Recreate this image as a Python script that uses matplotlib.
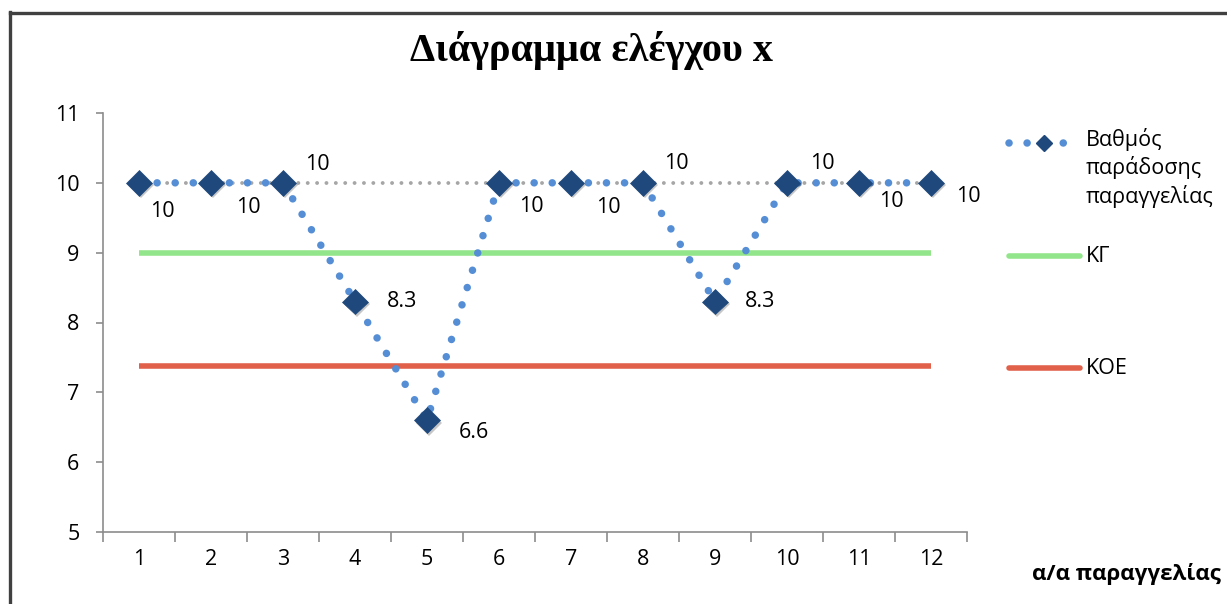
import matplotlib
matplotlib.use("Agg")
import matplotlib.pyplot as plt
import matplotlib.patheffects as pe
from matplotlib.lines import Line2D
from matplotlib.ticker import FixedLocator, NullFormatter

plt.rcParams['font.family'] = ['Open Sans', 'DejaVu Sans']

# ---- data ----
orders = [1, 2, 3, 4, 5, 6, 7, 8, 9, 10, 11, 12]
grades = [10, 10, 10, 8.3, 6.6, 10, 10, 10, 8.3, 10, 10, 10]
center_line = 9.0      # ΚΓ
lower_limit = 7.37     # ΚΟΕ
upper_limit = 10.0     # upper limit line (dotted grey)
y_ticks = [5, 6, 7, 8, 9, 10, 11]

title = "Διάγραμμα ελέγχου x"
x_title = "α/α παραγγελίας"
series_label = "Βαθμός\nπαράδοσης\nπαραγγελίας"
cl_label = "ΚΓ"
lcl_label = "ΚΟΕ"

# label offsets (pixels) for the value annotations
label_offsets = [(23, -29), (37, -25), (34, 18), (47, 0), (47, -12), (32, -24),
                 (37, -25), (33, 19), (45, 0), (35, 19), (32, -19), (37, -14)]

W, H = 1227, 604
fig = plt.figure(figsize=(W / 100, H / 100), dpi=100)
fig.patch.set_facecolor("white")

ax = fig.add_axes([103 / W, 1 - 532 / H, (967 - 103) / W, (532 - 113) / H])
ax.set_xlim(0.5, 12.5)
ax.set_ylim(5, 11)

blue_dot = "#558ED5"
navy = "#1F497D"
green = "#92E58A"
red = "#E0604A"
grey = "#A6A6A6"
txt = "#000000"
fs = 15.5

# horizontal reference lines
ax.plot([orders[0], orders[-1]], [upper_limit] * 2, color=grey, lw=2.8,
        linestyle=(0, (0.01, 2.4)), dash_capstyle="round", zorder=2)
ax.plot([orders[0], orders[-1]], [center_line] * 2, color=green, lw=4, zorder=2,
        solid_capstyle="butt")
ax.plot([orders[0], orders[-1]], [lower_limit] * 2, color=red, lw=4, zorder=2,
        solid_capstyle="butt")

# the measured series: dotted connector + diamond markers
ax.plot(orders, grades, color=blue_dot, lw=5.4, linestyle=(0, (0.01, 2.4)),
        dash_capstyle="round", zorder=3)
ax.plot(orders, grades, linestyle="none", marker="D", ms=13, color=navy,
        markeredgecolor=navy, markeredgewidth=0.5, zorder=4,
        path_effects=[pe.SimplePatchShadow(offset=(1.5, -1.8), shadow_rgbFace="k", alpha=0.22),
                      pe.Normal()])

for x, y, (dx, dy) in zip(orders, grades, label_offsets):
    ax.annotate(f"{y:g}", (x, y), xytext=(dx * 0.72, dy * 0.72), textcoords="offset points",
                ha="center", va="center", fontsize=fs, color=txt, zorder=5)

# axes styling
for s in ["top", "right"]:
    ax.spines[s].set_visible(False)
for s in ["left", "bottom"]:
    ax.spines[s].set_color("#8C8C8C")
    ax.spines[s].set_linewidth(1.2)

ax.set_yticks(y_ticks)
ax.tick_params(axis="y", length=5, width=1.2, color="#8C8C8C", labelsize=fs, pad=12,
               labelcolor=txt)
ax.xaxis.set_major_locator(FixedLocator([i + 0.5 for i in range(0, 13)]))
ax.xaxis.set_major_formatter(NullFormatter())
ax.xaxis.set_minor_locator(FixedLocator(orders))
ax.set_xticklabels([str(o) for o in orders], minor=True)
ax.tick_params(axis="x", which="major", length=7, width=1.2, color="#8C8C8C")
ax.tick_params(axis="x", which="minor", length=0, labelsize=fs, pad=12, labelcolor=txt)

# titles
fig.text(592 / W, 1 - 50 / H, title, ha="center", va="center", fontsize=29,
         fontweight="bold", family=["Liberation Serif", "DejaVu Serif"], color=txt)
fig.text(1126 / W, 1 - 574 / H, x_title, ha="center", va="center", fontsize=16,
         fontweight="bold", color=txt)

# legend, drawn in figure coordinates
def fx(px):
    return px / W

def fy(py):
    return 1 - py / H

fig.add_artist(Line2D([fx(1009), fx(1066)], [fy(143), fy(143)], color=blue_dot, lw=5.4,
                      linestyle=(0, (0.01, 2.4)), dash_capstyle="round"))
fig.add_artist(Line2D([fx(1044)], [fy(143)], marker="D", ms=8, color=navy, linestyle="none"))
fig.add_artist(Line2D([fx(1009), fx(1080)], [fy(256), fy(256)], color=green, lw=4,
                      solid_capstyle="round"))
fig.add_artist(Line2D([fx(1009), fx(1080)], [fy(368), fy(368)], color=red, lw=4,
                      solid_capstyle="round"))
fig.text(fx(1086), fy(128), series_label, ha="left", va="top", fontsize=fs,
         linespacing=1.3, color=txt)
fig.text(fx(1086), fy(257), cl_label, ha="left", va="center", fontsize=fs, color=txt)
fig.text(fx(1086), fy(369), lcl_label, ha="left", va="center", fontsize=fs, color=txt)

# outer chart frame (partially visible on the left and top)
frame_col = "#404040"
fig.add_artist(Line2D([fx(9.5), fx(9.5)], [fy(12), fy(610)], color=frame_col, lw=2.4,
                      solid_capstyle="projecting"))
fig.add_artist(Line2D([fx(9.5), fx(1230)], [fy(12.5), fy(12.5)], color=frame_col, lw=2.4,
                      solid_capstyle="projecting"))

fig.savefig("out.png", dpi=100, facecolor="white")
